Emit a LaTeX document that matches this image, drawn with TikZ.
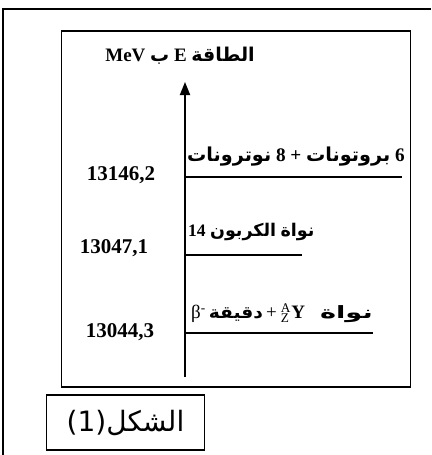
\documentclass[tikz,border=0pt]{standalone}
\usepackage{fontspec}
\usepackage{graphicx}
\usetikzlibrary{arrows.meta}
\setmainfont{Liberation Serif}
\newfontfamily\arabicfont[Script=Arabic]{DejaVu Sans}
\newfontfamily\capfont[Script=Arabic]{DejaVu Sans}
\TeXXeTstate=1
\newcommand{\artxt}[1]{{\arabicfont\beginR #1\endR}}
\begin{document}
\begin{tikzpicture}[x=1pt,y=-1pt,
  frameline/.style={line width=1.3pt},
  levelline/.style={line width=1.8pt},
  valtext/.style={font=\fontsize{21}{23}\selectfont\bfseries, inner sep=0pt},
  leveltext/.style={font=\fontsize{19}{21}\selectfont\bfseries, inner sep=0pt, anchor=west}]
\useasboundingbox (0,0) rectangle (431,455);
% outer frame
\coordinate (obl) at (3,455);
\coordinate (otl) at (3,9);
\coordinate (otr) at (431,9);
\draw[frameline] (obl) -- (otl) -- (otr);
% inner frame
\node (frame) [draw, frameline, minimum width=349pt, minimum height=356pt, inner sep=0pt] at (236,209) {};
% axis
\coordinate (axbot) at (185,377);
\coordinate (axtop) at (185,82);
\draw[line width=1.8pt, -{Triangle[length=13pt,width=10pt]}] (axbot) -- (axtop);
\node (title) [font=\fontsize{19}{21}\selectfont\bfseries, inner sep=0pt] at (180,56)
  {MeV \artxt{ب} E \artxt{الطاقة}};
% level 1
\coordinate (l1a) at (185,177);
\coordinate (l1b) at (402,177);
\draw[levelline] (l1a) -- (l1b);
\node (t1) [leveltext, font=\fontsize{19.2}{22}\selectfont\bfseries] at (187,157) {\artxt{نوترونات} 8 + \artxt{بروتونات} 6};
\node (v1) [valtext] at (121,175) {13146,2};
% level 2
\coordinate (l2a) at (185,255);
\coordinate (l2b) at (302,255);
\draw[levelline] (l2a) -- (l2b);
\node (t2) [leveltext, font=\fontsize{17.5}{20}\selectfont\bfseries] at (188,232) {14 \artxt{الكربون} \artxt{نواة}};
\node (v2) [valtext] at (114,248) {13047,1};
% level 3
\coordinate (l3a) at (185,333);
\coordinate (l3b) at (373,333);
\draw[levelline] (l3a) -- (l3b);
\node (t3) [leveltext] at (191,313) {{\mdseries β\textsuperscript{-}}\hspace{3pt}{\fontsize{17}{19}\selectfont\scalebox{1.1}[1]{\artxt{دقيقة}}}\hspace{3pt}{\mdseries +}\hspace{4pt}$^{\mathrm{A}}_{\mathrm{Z}}$\hspace{0.5pt}Y\hspace{15pt}{\fontsize{17}{19}\selectfont\scalebox{1.6}[1]{\artxt{نواة}}}};
\node (v3) [valtext] at (120,332) {13044,3};
% caption
\node (cap) [draw, line width=1.2pt, minimum width=158pt, minimum height=55pt, inner sep=0pt,
  font=\capfont\fontsize{28}{30}\selectfont] at (125.5,422.5) {(1)\artxt{الشكل}};
\end{tikzpicture}
\end{document}
